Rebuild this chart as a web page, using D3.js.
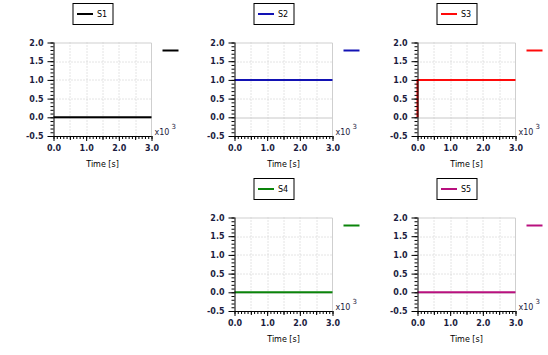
<!DOCTYPE html>
<html>
<head>
<meta charset="utf-8">
<script src="https://cdn.jsdelivr.net/npm/d3@7"></script>
<style>
  html, body { margin: 0; padding: 0; background: #ffffff; }
  svg { display: block; }
  text { font-family: "DejaVu Sans", sans-serif; }
</style>
</head>
<body>
<svg id="chart" width="548" height="355"></svg>
<script>
// ---- data ----
const seriesNames = ["S1", "S2", "S3", "S4", "S5"];
const seriesColors = ["#000000", "#1212b4", "#ff0a0a", "#0a840a", "#b8107e"];
const timeS1 = [0, 3000];        const valuesS1 = [0, 0];
const timeS2 = [0, 3000];        const valuesS2 = [1, 1];
const timeS3 = [0, 0, 3000];     const valuesS3 = [0, 1, 1];
const timeS4 = [0, 3000];        const valuesS4 = [0, 0];
const timeS5 = [0, 3000];        const valuesS5 = [0, 0];
const xTickValues = [0, 1000, 2000, 3000];
const xTickLabels = ["0.0", "1.0", "2.0", "3.0"];
const yTickValues = [-0.5, 0.0, 0.5, 1.0, 1.5, 2.0];
const yTickLabels = ["-0.5", "0.0", "0.5", "1.0", "1.5", "2.0"];
const xAxisTitle = "Time [s]";
const xDomain = [0, 3000];
const yDomain = [-0.5, 2.0];

const seriesTimes = [timeS1, timeS2, timeS3, timeS4, timeS5];
const seriesValues = [valuesS1, valuesS2, valuesS3, valuesS4, valuesS5];

// ---- layout ----
const panelPos = [
  {left: 53.5, top: 42.5},
  {left: 234.5, top: 42.5},
  {left: 417.5, top: 42.5},
  {left: 234.5, top: 217.5},
  {left: 417.5, top: 217.5}
];
const W = 98, H = 93.5;
const svg = d3.select("#chart");
const labelColor = "#1c1c40";

seriesNames.forEach((name, i) => {
  const p = panelPos[i];
  const g = svg.append("g").attr("transform", `translate(${p.left},${p.top})`);
  const x = d3.scaleLinear().domain(xDomain).range([0, W]);
  const y = d3.scaleLinear().domain(yDomain).range([H, 0]);

  // grid - dotted
  const gx = d3.range(500, 3000, 500);
  g.selectAll(".vg").data(gx).enter().append("line")
    .attr("x1", d => Math.round(x(d)) + 0.5).attr("x2", d => Math.round(x(d)) + 0.5)
    .attr("y1", 0).attr("y2", H)
    .attr("stroke", "#c8c8c8").attr("stroke-width", 1).attr("stroke-dasharray", "1,2");
  const gy = [0.5, 1.0, 1.5];
  g.selectAll(".hg").data(gy).enter().append("line")
    .attr("y1", d => Math.round(y(d)) + 0.5).attr("y2", d => Math.round(y(d)) + 0.5)
    .attr("x1", 0).attr("x2", W)
    .attr("stroke", "#c8c8c8").attr("stroke-width", 1).attr("stroke-dasharray", "1,2");
  // zero line solid
  g.append("line")
    .attr("x1", 0).attr("x2", W)
    .attr("y1", Math.round(y(0)) + 0.5).attr("y2", Math.round(y(0)) + 0.5)
    .attr("stroke", "#c8c8c8").attr("stroke-width", 1);
  // top & right border
  g.append("path")
    .attr("d", `M0,0.5H${W}V${H}`)
    .attr("fill", "none").attr("stroke", "#cfcfcf").attr("stroke-width", 1);

  // series line
  const pts = seriesTimes[i].map((t, k) => [t, seriesValues[i][k]]);
  g.append("path")
    .datum(pts)
    .attr("d", d3.line().x(d => x(d[0])).y(d => y(d[1])))
    .attr("fill", "none").attr("stroke", seriesColors[i]).attr("stroke-width", 2);

  // y axis minor
  const yMinor = g.append("g").call(
    d3.axisLeft(y).tickValues(d3.range(-5, 21, 1).map(v => v / 10)).tickSize(3).tickFormat(""));
  yMinor.select(".domain").remove();
  yMinor.selectAll("line").attr("stroke", "#000");
  // y axis major
  const yAx = g.append("g").call(
    d3.axisLeft(y).tickValues(yTickValues).tickSize(6).tickPadding(4)
      .tickFormat((d, k) => yTickLabels[k]));
  yAx.select(".domain").attr("stroke", "#000").attr("d", `M0.5,0V${H}`);
  yAx.selectAll("text").attr("font-size", 8).attr("font-weight", "bold")
    .attr("fill", labelColor).attr("font-family", "DejaVu Sans, sans-serif");

  // x axis minor
  const xMinor = g.append("g").attr("transform", `translate(0,${H})`).call(
    d3.axisBottom(x).tickValues(d3.range(0, 3001, 100)).tickSize(3).tickFormat(""));
  xMinor.select(".domain").remove();
  const xMid = g.append("g").attr("transform", `translate(0,${H})`).call(
    d3.axisBottom(x).tickValues([500, 1500, 2500]).tickSize(4).tickFormat(""));
  xMid.select(".domain").remove();
  // x axis major
  const xAx = g.append("g").attr("transform", `translate(0,${H})`).call(
    d3.axisBottom(x).tickValues(xTickValues).tickSize(5).tickPadding(4)
      .tickFormat((d, k) => xTickLabels[k]));
  xAx.select(".domain").attr("stroke", "#000").attr("d", `M0,0.5H${W}`);
  xAx.selectAll("text").attr("font-size", 8).attr("font-weight", "bold")
    .attr("fill", labelColor).attr("font-family", "DejaVu Sans, sans-serif");

  // x10^3 label
  const ex = g.append("text").attr("x", W + 3).attr("y", H - 1)
    .attr("font-size", 8).attr("fill", labelColor);
  ex.append("tspan").text("x10");
  ex.append("tspan").attr("dx", 2).attr("dy", -6).attr("font-size", 7).text("3");

  // axis title
  g.append("text").attr("x", W / 2).attr("y", H + 31)
    .attr("text-anchor", "middle").attr("font-size", 8).attr("fill", "#000")
    .text(xAxisTitle);

  // legend box
  const lg = g.append("g").attr("transform", `translate(19.5,-39)`);
  lg.append("rect").attr("x", 0).attr("y", 0).attr("width", 40).attr("height", 21)
    .attr("fill", "#fff").attr("stroke", "#000").attr("stroke-width", 1);
  lg.append("line").attr("x1", 4).attr("x2", 20).attr("y1", 10.5).attr("y2", 10.5)
    .attr("stroke", seriesColors[i]).attr("stroke-width", 2);
  lg.append("text").attr("x", 24).attr("y", 13.5).attr("font-size", 8).attr("fill", "#000")
    .text(name);

  // short line to the right
  g.append("line").attr("x1", W + 11).attr("x2", W + 27).attr("y1", 8).attr("y2", 8)
    .attr("stroke", seriesColors[i]).attr("stroke-width", 2);
});
</script>
</body>
</html>
